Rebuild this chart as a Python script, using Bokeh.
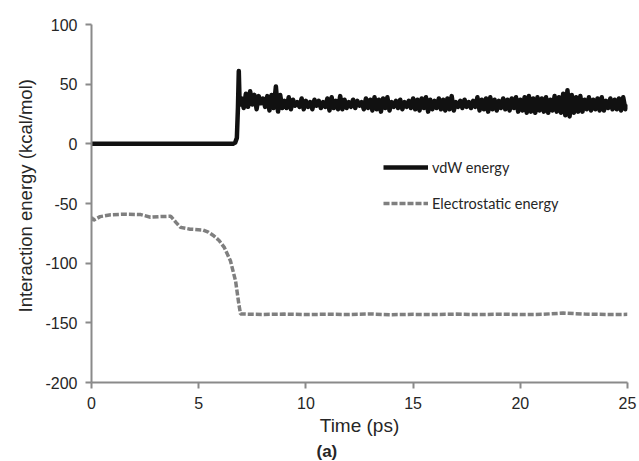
import numpy as np
from bokeh.plotting import figure
from bokeh.models import Range1d, FixedTicker, Legend, LegendItem, Title
from bokeh.embed import file_html
from bokeh.resources import INLINE

# ---- data ----
x_ticks = [0, 5, 10, 15, 20, 25]
x_tick_labels = ["0", "5", "10", "15", "20", "25"]
y_ticks = [-200, -150, -100, -50, 0, 50, 100]
y_tick_labels = ["-200", "-150", "-100", "-50", "0", "50", "100"]

# vdW energy: flat zero, jump near 6.9 ps, then fluctuating band
vdw_t_start = [0.0, 6.6, 6.7, 6.78, 6.83, 6.87, 6.9, 6.95]
vdw_start = [0, 0, 1, 5, 30, 61, 40, 33]
vdw_t_band = [round(7.0 + 0.1 * i, 1) for i in range(181)]
vdw_band = [
    38, 30, 42, 31, 44, 33, 41, 29, 40, 34,
    38, 31, 40, 28, 41, 30, 48, 27, 41, 30,
    36, 30, 39, 29, 37, 32, 35, 31, 38, 29,
    36, 31, 35, 29, 37, 32, 36, 30, 35, 31,
    38, 28, 39, 30, 36, 29, 40, 29, 37, 30,
    35, 31, 37, 30, 36, 32, 35, 29, 38, 30,
    37, 28, 39, 29, 37, 27, 38, 30, 39, 28,
    35, 31, 36, 30, 37, 29, 35, 31, 36, 30,
    38, 29, 37, 28, 38, 30, 39, 27, 37, 29,
    36, 30, 38, 29, 37, 28, 38, 29, 40, 28,
    35, 31, 36, 30, 37, 31, 35, 30, 36, 31,
    39, 28, 37, 29, 38, 27, 39, 29, 37, 28,
    36, 30, 38, 29, 37, 28, 38, 30, 39, 27,
    37, 28, 39, 26, 40, 27, 38, 26, 39, 28,
    38, 27, 39, 26, 37, 28, 40, 27, 39, 26,
    42, 24, 45, 23, 41, 26, 39, 27, 40, 27,
    37, 29, 39, 28, 37, 29, 38, 28, 39, 28,
    36, 30, 38, 29, 37, 29, 38, 28, 39, 29,
    33,
]
vdw_t = vdw_t_start + vdw_t_band
vdw = vdw_start + vdw_band

# Electrostatic energy
elec_t = [0.0, 0.1, 0.4, 0.9, 1.5, 2.3, 2.75, 3.2, 3.7, 3.95, 4.15, 4.6,
          5.2, 5.45, 5.7, 5.95, 6.2, 6.48, 6.72, 6.87, 6.95,
          8, 9, 10, 11, 12, 13, 14, 15, 16, 17, 18, 19, 20, 21, 22, 23, 24, 25]
elec = [-61.5, -64, -61, -59.5, -59, -59.3, -61.5, -61, -60.7, -66, -70, -71.5,
        -72.2, -74, -77, -81, -87, -98, -115, -134, -142.6,
        -143, -142.7, -143.1, -142.8, -143, -142.6, -143.2, -142.9, -143,
        -142.7, -143.1, -142.8, -143, -142.9, -141.8, -142.7, -143, -142.9]

# ---- figure ----
FONT = "Liberation Sans"
AX = "#8a8a8a"
TXT = "#262626"

p = figure(width=639, height=461, output_backend="svg", toolbar_location=None,
           x_range=Range1d(0, 25), y_range=Range1d(-200, 100),
           min_border_left=91, min_border_right=12, min_border_top=24,
           min_border_bottom=79)
p.outline_line_color = None
p.grid.visible = False
p.background_fill_color = "white"
p.border_fill_color = "white"

r_vdw = p.line(vdw_t, vdw, line_color="#111111", line_width=4.5, line_join="round")
r_el = p.line(elec_t, elec, line_color="#7f7f7f", line_width=3.5, line_dash="6 2")

for ax in (p.xaxis[0], p.yaxis[0]):
    ax.axis_line_color = AX
    ax.axis_line_width = 2
    ax.major_tick_line_color = AX
    ax.major_tick_line_width = 2
    ax.major_tick_out = 6
    ax.major_tick_in = 0
    ax.minor_tick_line_color = None
    ax.major_label_text_font = FONT
    ax.major_label_text_font_size = "16px"
    ax.major_label_text_color = TXT
    ax.axis_label_text_font = FONT
    ax.axis_label_text_font_size = "19px"
    ax.axis_label_text_font_style = "normal"
    ax.axis_label_text_color = TXT

p.xaxis.ticker = FixedTicker(ticks=x_ticks)
p.xaxis.major_label_overrides = dict(zip(x_ticks, x_tick_labels))
p.yaxis.ticker = FixedTicker(ticks=y_ticks)
p.yaxis.major_label_overrides = dict(zip(y_ticks, y_tick_labels))
p.xaxis.axis_label = "Time (ps)"
p.xaxis.major_label_standoff = 8
p.yaxis.major_label_standoff = 8
p.xaxis.axis_label_standoff = 3

# y axis title, placed like the reference (slightly above the plot-area centre)
p.add_layout(Title(text="Interaction energy (kcal/mol)", align="left", offset=70,
                   text_font=FONT, text_font_size="18.5px",
                   text_font_style="normal", text_color=TXT, standoff=13), "left")

legend = Legend(items=[LegendItem(label="vdW energy", renderers=[r_vdw]),
                       LegendItem(label="Electrostatic energy", renderers=[r_el])],
                location=(292, 169), glyph_width=45, glyph_height=20,
                label_height=20, spacing=16, padding=0, margin=0,
                label_standoff=4, border_line_color=None,
                background_fill_alpha=0,
                label_text_font="Lato", label_text_font_size="14.5px",
                label_text_color=TXT)
p.add_layout(legend, "center")

p.add_layout(Title(text="(a)", align="left", offset=225, text_font=FONT,
                   text_font_size="17px", text_font_style="bold",
                   text_color=TXT, standoff=2), "below")

open("out.html", "w").write(file_html(p, INLINE))
